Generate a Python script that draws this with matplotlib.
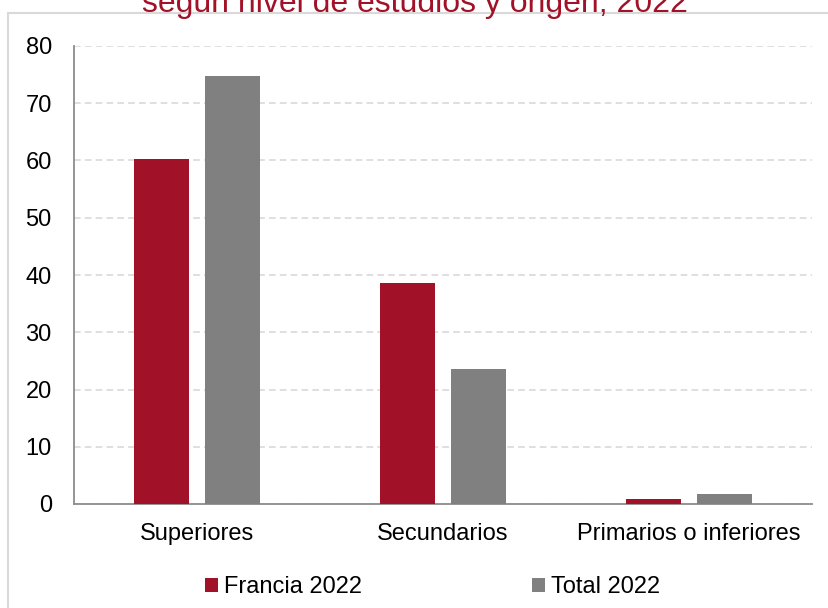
import matplotlib
matplotlib.use("Agg")
import matplotlib.pyplot as plt
from matplotlib.patches import Patch, Rectangle
import numpy as np

categories = ["Superiores", "Secundarios", "Primarios o inferiores"]
francia_2022 = [60.2, 38.6, 0.9]
total_2022 = [74.7, 23.6, 1.8]
series_names = ["Francia 2022", "Total 2022"]
yticks = [0, 10, 20, 30, 40, 50, 60, 70, 80]
title = "según nivel de estudios y origen, 2022"

RED = "#A11127"
GRAY = "#808080"

plt.rcParams['font.family'] = ['Liberation Sans', 'DejaVu Sans']

W, H = 829, 608
fig = plt.figure(figsize=(W / 100, H / 100), dpi=100)

# outer frame
fig.patches.append(Rectangle((8.5 / W, -0.05), 1.2, 1 - 13 / H + 0.05,
                             transform=fig.transFigure, fill=False,
                             edgecolor="#d9d9d9", linewidth=1.5, zorder=0))

ax = fig.add_axes([74 / W, 1 - 504 / H, (812 - 74) / W, (504 - 46) / H])

x = np.arange(len(categories))
w = 0.224
off = 0.1443
ax.bar(x - off, francia_2022, width=w, color=RED, zorder=3)
ax.bar(x + off, total_2022, width=w, color=GRAY, zorder=3)

ax.set_xlim(-0.5, len(categories) - 0.5)
ax.set_ylim(0, 80)
ax.set_yticks(yticks)
ax.set_yticklabels([str(t) for t in yticks], fontsize=17)
ax.set_xticks(x)
ax.set_xticklabels(categories, fontsize=17)
ax.tick_params(axis='y', length=0, pad=16)
ax.tick_params(axis='x', length=0, pad=14)

ax.grid(axis='y', color="#d9d9d9", linestyle=(0, (4, 2.5)), linewidth=1.2, zorder=0)
ax.set_axisbelow(True)
for s in ["top", "right"]:
    ax.spines[s].set_visible(False)
for s in ["left", "bottom"]:
    ax.spines[s].set_color("#8c8c8c")
    ax.spines[s].set_linewidth(1.3)

fig.text(0.5, 1 - 12 / H, title, ha="center", va="baseline", fontsize=23, color=RED)

handles = [Patch(facecolor=RED, label=series_names[0]),
           Patch(facecolor=GRAY, label=series_names[1])]
fig.legend(handles=handles, loc="center", bbox_to_anchor=(0.522, 1 - 587 / H),
           ncol=2, frameon=False, fontsize=17, handlelength=0.55, handleheight=0.55,
           handletextpad=0.25, columnspacing=7.2)

fig.savefig("out.png", dpi=100)
